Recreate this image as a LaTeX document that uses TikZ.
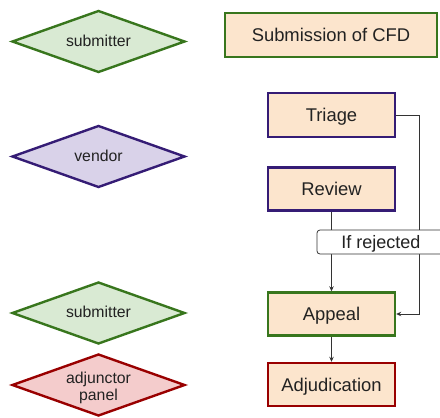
\documentclass[tikz,border=0pt]{standalone}
\usepackage{fontspec}
\setmainfont{Liberation Sans}
\usetikzlibrary{shapes.geometric,arrows.meta}
\definecolor{gfill}{HTML}{D9EAD3}
\definecolor{gline}{HTML}{38761D}
\definecolor{pfill}{HTML}{D9D2E9}
\definecolor{pline}{HTML}{351C75}
\definecolor{rfill}{HTML}{F4CCCC}
\definecolor{rline}{HTML}{990000}
\definecolor{bfill}{HTML}{FCE5CD}
\definecolor{txt}{HTML}{222222}
\definecolor{conn}{HTML}{333333}
\newcommand{\rolebox}[2][-5pt]{\makebox[0pt]{\smash{\raisebox{#1}{\begin{tabular}{@{}c@{}}#2\end{tabular}}}}}
\tikzset{
  role/.style={diamond, draw, line width=2.4pt, minimum width=173pt, minimum height=62pt,
    inner sep=0pt, text=txt, font=\fontsize{15.8}{17.5}\selectfont},
  stagebox/.style={rectangle, draw, line width=2.4pt, fill=bfill, minimum height=43pt,
    inner sep=0pt, text height=13pt, text depth=0pt, text=txt, font=\fontsize{18.4}{20}\selectfont},
  conline/.style={draw=conn, line width=0.9pt},
  arr/.style={-{Stealth[length=5pt,width=4.5pt]}},
  lbl/.style={rectangle, draw=conn, line width=0.8pt, rounded corners=3pt, fill=white,
    minimum width=128pt, minimum height=24pt, inner sep=0pt, text height=12.5pt, text depth=0pt,
    text=txt, font=\fontsize{18}{20}\selectfont}
}
\begin{document}
\begin{tikzpicture}[x=1pt,y=1pt]
\useasboundingbox (0,0) rectangle (440,-418);
\node[role, fill=gfill, draw=gline] (sub1) at (98.5,-41.5) {\rolebox{submitter}};
\node[role, fill=pfill, draw=pline] (vend) at (98.5,-156.5) {\rolebox{vendor}};
\node[role, fill=gfill, draw=gline] (sub2) at (98.5,-313) {\rolebox{submitter}};
\node[role, fill=rfill, draw=rline] (adj) at (98.5,-385) {\rolebox[-7pt]{adjunctor\\[-1pt]panel}};

\node[stagebox, draw=gline, minimum width=212pt, minimum height=44pt] (cfd) at (331,-35) {Submission of CFD};
\node[stagebox, draw=pline, minimum width=127pt, minimum height=44pt] (triage) at (331.5,-115) {Triage};
\node[stagebox, draw=pline, minimum width=127pt] (review) at (331.5,-189) {Review};
\node[stagebox, draw=gline, minimum width=127pt] (appeal) at (331.5,-314) {Appeal};
\node[stagebox, draw=rline, minimum width=127pt] (adjud) at (331.5,-384.5) {Adjudication};

\coordinate (turn) at (419,-115);
\draw[conline, arr] (triage.east) -- (turn) |- (appeal.east);
\draw[conline, arr] (review.south) -- (appeal.north);
\draw[conline, arr] (appeal.south) -- (adjud.north);

\node[lbl] (rej) at (381,-242) {If rejected};
\end{tikzpicture}
\end{document}
